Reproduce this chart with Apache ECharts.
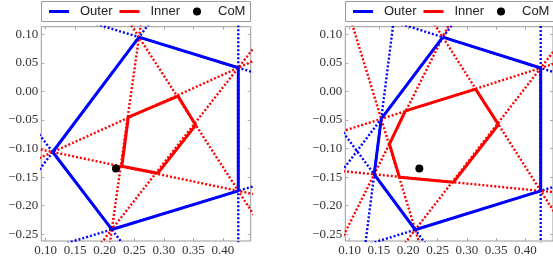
<!DOCTYPE html>
<html>
<head>
<meta charset="utf-8">
<script src="https://cdn.jsdelivr.net/npm/echarts@6/dist/echarts.min.js"></script>
<style>
  html, body { margin: 0; padding: 0; background: #fff; }
  #chart { width: 553px; height: 261px; }
</style>
</head>
<body>
<div id="chart"></div>
<script>
const xTicks = [0.10, 0.15, 0.20, 0.25, 0.30, 0.35, 0.40];
const yTicks = [-0.25, -0.20, -0.15, -0.10, -0.05, 0.00, 0.05, 0.10];

// polygon vertices (x, y)
const outerLeft = [[0.258, 0.095], [0.426, 0.0415], [0.426, -0.174], [0.212, -0.2415], [0.112, -0.106]];
const innerLeft = [[0.240, -0.045], [0.324, -0.008], [0.354, -0.059], [0.290, -0.143], [0.229, -0.131]];
const outerRight = [[0.259, 0.095], [0.426, 0.041], [0.426, -0.174], [0.212, -0.242], [0.142, -0.145], [0.154, -0.048]];
const innerRight = [[0.195, -0.034], [0.315, 0.004], [0.354, -0.058], [0.277, -0.159], [0.185, -0.150], [0.168, -0.092]];
const comPoint = [0.219, -0.1347];

const BLUE = '#0000ff';
const RED = '#ff0000';
const X_RANGE = [0.0927, 0.447];
const Y_RANGE = [-0.2617, 0.1133];

function closed(poly) {
  return poly.concat([poly[0]]);
}

// line through a and b, stretched far past both ends; the grid clips it
function throughLine(a, b) {
  const dx = b[0] - a[0];
  const dy = b[1] - a[1];
  return [[a[0] - dx * 30, a[1] - dy * 30], [a[0] + dx * 31, a[1] + dy * 31]];
}

function panelSeries(outer, inner, axisIndex) {
  const base = {
    type: 'line',
    xAxisIndex: axisIndex,
    yAxisIndex: axisIndex,
    symbol: 'none',
    clip: true,
    silent: true,
    animation: false,
  };
  const n = outer.length;
  const series = [];
  for (let i = 0; i < n; i++) {
    series.push({
      ...base,
      name: 'edgeLine',
      data: throughLine(outer[i], outer[(i + 1) % n]),
      lineStyle: { color: BLUE, width: 2.4, type: [2, 2], cap: 'butt' },
      z: 2,
    });
  }
  for (let i = 0; i < n; i++) {
    series.push({
      ...base,
      name: 'diagLine',
      data: throughLine(outer[i], outer[(i + 2) % n]),
      lineStyle: { color: RED, width: 2.4, type: [2, 2], cap: 'butt' },
      z: 2,
    });
  }
  series.push({
    ...base,
    name: 'Outer',
    data: closed(outer),
    color: BLUE,
    lineStyle: { color: BLUE, width: 3 },
    z: 3,
  });
  series.push({
    ...base,
    name: 'Inner',
    data: closed(inner),
    color: RED,
    lineStyle: { color: RED, width: 3 },
    z: 4,
  });
  series.push({
    type: 'scatter',
    name: 'CoM',
    xAxisIndex: axisIndex,
    yAxisIndex: axisIndex,
    data: [comPoint],
    symbolSize: 8,
    itemStyle: { color: '#000', opacity: 1 },
    silent: true,
    animation: false,
    z: 5,
  });
  return series;
}

const fmt = (v) => (v < 0 ? '\u2212' : '') + Math.abs(v).toFixed(2);
const labelFont = { fontFamily: 'Liberation Serif', fontSize: 13, color: '#333' };
const tickStyle = { inside: true, length: 3, lineStyle: { color: '#aaa', width: 1 } };
const noLine = { show: false, onZero: false };

function xAxes(gridIndex) {
  return [
    {
      type: 'value', gridIndex, position: 'bottom', min: X_RANGE[0], max: X_RANGE[1],
      axisLine: noLine, splitLine: { show: false },
      axisTick: { ...tickStyle, customValues: xTicks },
      axisLabel: { ...labelFont, customValues: xTicks, formatter: fmt, margin: 3 },
    },
    {
      type: 'value', gridIndex, position: 'top', min: X_RANGE[0], max: X_RANGE[1],
      axisLine: noLine, splitLine: { show: false },
      axisTick: { ...tickStyle, customValues: xTicks },
      axisLabel: { show: false },
    },
  ];
}

function yAxes(gridIndex) {
  return [
    {
      type: 'value', gridIndex, position: 'left', min: Y_RANGE[0], max: Y_RANGE[1],
      axisLine: noLine, splitLine: { show: false },
      axisTick: { ...tickStyle, customValues: yTicks },
      axisLabel: { ...labelFont, customValues: yTicks, formatter: fmt, margin: 3 },
    },
    {
      type: 'value', gridIndex, position: 'right', min: Y_RANGE[0], max: Y_RANGE[1],
      axisLine: noLine, splitLine: { show: false },
      axisTick: { ...tickStyle, customValues: yTicks },
      axisLabel: { show: false },
    },
  ];
}

const panelLefts = [41.3, 345.3];
const gridBox = { top: 26.7, width: 209.4, height: 214.3 };

const legendText = { fontFamily: 'Liberation Sans', fontSize: 13, color: '#222' };
const legends = [];
panelLefts.forEach((left) => {
  legends.push({
    left: left + 7.7, top: 5, padding: 0, itemGap: 7,
    itemWidth: 20, itemHeight: 3, selectedMode: false,
    data: [{ name: 'Outer', icon: 'rect' }, { name: 'Inner', icon: 'rect' }],
    textStyle: { ...legendText, padding: [0, 0, 0, 6] },
  });
  legends.push({
    left: left + 151.7, top: 5, padding: 0,
    itemWidth: 8, itemHeight: 8, selectedMode: false,
    data: [{ name: 'CoM', icon: 'circle', itemStyle: { color: '#000', opacity: 1 } }],
    textStyle: { ...legendText, padding: [0, 0, 0, 12] },
  });
});

const chart = echarts.init(document.getElementById('chart'), null, { renderer: 'canvas' });
chart.setOption({
  animation: false,
  backgroundColor: '#fff',
  grid: panelLefts.map((left) => ({
    left, ...gridBox, show: true, borderColor: '#999', borderWidth: 1, backgroundColor: 'transparent',
  })),
  xAxis: [...xAxes(0), ...xAxes(1)],
  yAxis: [...yAxes(0), ...yAxes(1)],
  legend: legends,
  graphic: panelLefts.map((left) => ({
    type: 'rect',
    shape: { x: left + 0.2, y: 1.5, width: 209, height: 20 },
    style: { fill: 'transparent', stroke: '#999', lineWidth: 1 },
    silent: true,
  })),
  series: [...panelSeries(outerLeft, innerLeft, 0), ...panelSeries(outerRight, innerRight, 2)],
});
</script>
</body>
</html>
